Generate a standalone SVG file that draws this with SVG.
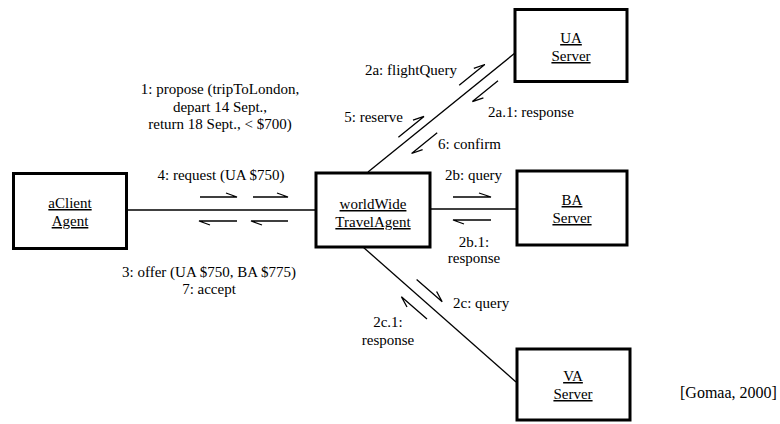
<svg xmlns="http://www.w3.org/2000/svg" width="780" height="424" viewBox="0 0 780 424">
  <style>
    .box { fill: #ffffff; stroke: #000000; stroke-width: 3; }
    .link { fill: none; stroke: #000000; stroke-width: 1.3; }
    .msg { fill: none; stroke: #000000; stroke-width: 1.3; stroke-linejoin: miter; }
    text { font-family: "Liberation Serif", "Times New Roman", serif; font-size: 15px; fill: #000000; }
    .name { text-anchor: middle; text-decoration: underline; }
    .mid { text-anchor: middle; }
    .end { text-anchor: end; }
    .cite { font-size: 16px; }
  </style>

  <rect width="780" height="424" fill="#ffffff"/>

  <!-- links between objects -->
  <g id="connectors">
    <path class="link" d="M127,210 L316,210"/>
    <path class="link" d="M430,209 L517,209"/>
    <path class="link" d="M368,172 L515,53"/>
    <path class="link" d="M363,247 L516,382"/>
  </g>

  <!-- message arrows (half arrowheads) -->
  <g id="messages">
    <path class="msg" d="M200,197 L237,197 L226,193"/>
    <path class="msg" d="M253,197 L288,197 L277,193"/>
    <path class="msg" d="M237,221 L199,221 L210,225"/>
    <path class="msg" d="M288,221 L251,221 L262,225"/>
    <path class="msg" d="M453,197 L491,197 L479,193"/>
    <path class="msg" d="M491,220 L453,220 L464,224"/>
    <path class="msg" d="M459.2,85.3 L484.8,64.5 L473.8,68.3"/>
    <path class="msg" d="M498,80.8 L472.4,101.6 L483.4,97.8"/>
    <path class="msg" d="M398.4,137.2 L424,116.4 L413,120.2"/>
    <path class="msg" d="M437.2,132.7 L411.6,153.5 L422.6,149.7"/>
    <path class="msg" d="M416.6,279.4 L442.2,301.8 L436.6,291.5"/>
    <path class="msg" d="M427,319.1 L401.4,296.7 L407,307"/>
  </g>

  <g id="aClientAgent">
    <rect class="box" x="13.5" y="173.5" width="113" height="75"/>
    <text class="name" x="70" y="208">aClient</text>
    <text class="name" x="70" y="226">Agent</text>
  </g>

  <g id="worldWideTravelAgent">
    <rect class="box" x="316" y="173" width="114" height="74"/>
    <text class="name" x="373" y="209">worldWide</text>
    <text class="name" x="373" y="227">TravelAgent</text>
  </g>

  <g id="uaServer">
    <rect class="box" x="515" y="9.5" width="112" height="72"/>
    <text class="name" x="571" y="43">UA</text>
    <text class="name" x="571" y="61">Server</text>
  </g>

  <g id="baServer">
    <rect class="box" x="517" y="171" width="110" height="74"/>
    <text class="name" x="572" y="205">BA</text>
    <text class="name" x="572" y="223">Server</text>
  </g>

  <g id="vaServer">
    <rect class="box" x="517" y="349" width="113" height="71"/>
    <text class="name" x="573" y="381">VA</text>
    <text class="name" x="573" y="399">Server</text>
  </g>

  <!-- message labels -->
  <g id="labels">
    <text class="mid" x="220" y="94">1: propose (tripToLondon,</text>
    <text class="mid" x="220" y="111.5">depart 14 Sept.,</text>
    <text class="mid" x="220" y="129">return 18 Sept., &lt; $700)</text>
    <text class="mid" x="221" y="180">4: request (UA $750)</text>
    <text class="mid" x="209" y="277">3: offer (UA $750, BA $775)</text>
    <text class="mid" x="209" y="294">7: accept</text>
    <text class="end" x="457" y="75">2a: flightQuery</text>
    <text x="488" y="117">2a.1: response</text>
    <text class="end" x="403" y="122">5: reserve</text>
    <text x="438" y="149">6: confirm</text>
    <text x="445" y="180">2b: query</text>
    <text class="mid" x="474" y="247">2b.1:</text>
    <text class="mid" x="474" y="263">response</text>
    <text x="453" y="308">2c: query</text>
    <text class="mid" x="388" y="327">2c.1:</text>
    <text class="mid" x="388" y="345">response</text>
    <text class="cite" x="680" y="398">[Gomaa, 2000]</text>
  </g>
</svg>
